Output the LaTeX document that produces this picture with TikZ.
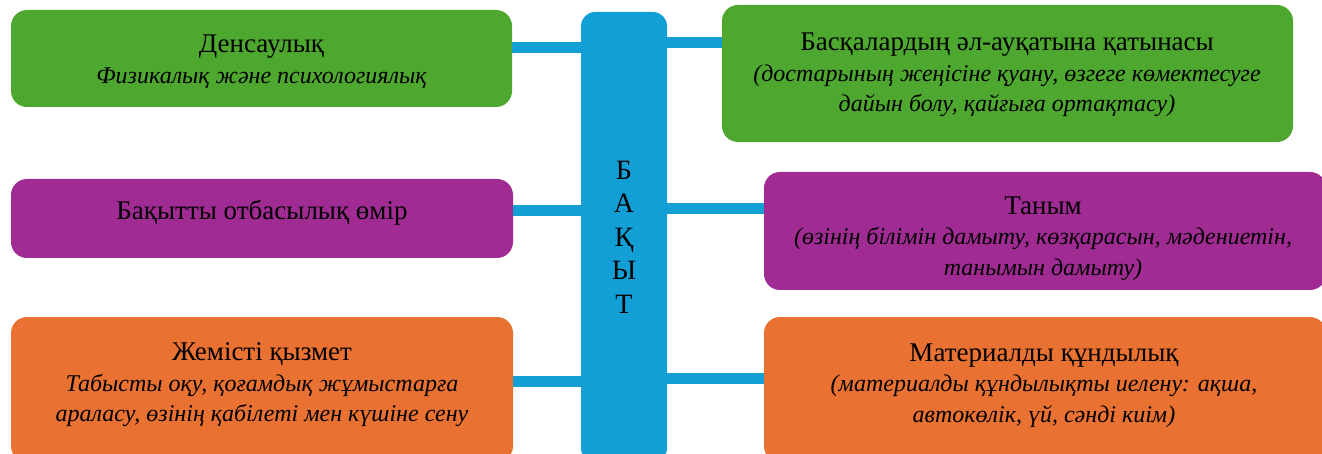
\documentclass[tikz,border=0pt]{standalone}
\usepackage{fontspec}
\setmainfont{Liberation Serif}
\usetikzlibrary{calc}
\definecolor{cgreen}{HTML}{4EA72E}
\definecolor{cpurple}{HTML}{A02B93}
\definecolor{corange}{HTML}{E97132}
\definecolor{cblue}{HTML}{119FD6}
\tikzset{
  box/.style={rectangle, rounded corners=16pt, inner sep=0pt, draw=none},
  txt/.style={align=center, inner sep=0pt, font=\fontsize{27}{30.5}\selectfont},
  conn/.style={draw=cblue, line width=11pt},
  barbox/.style={rectangle, rounded corners=14pt, fill=cblue, inner sep=0pt, align=center, font=\fontsize{28}{33.5}\selectfont}
}
\newcommand{\sub}[1]{{\itshape\fontsize{24}{30}\selectfont #1}}
\begin{document}
\begin{tikzpicture}[x=1pt,y=-1pt]
\useasboundingbox (0,0) rectangle (1322,454);
\clip (0,0) rectangle (1322,454);
% central bar
\node[barbox, minimum width=86pt, minimum height=450pt] (bar) at (624,237) {Б\\А\\Қ\\Ы\\Т};
% left boxes
\node[box, fill=cgreen, minimum width=501pt, minimum height=97pt] (den) at (261.5,58.5) {};
\node[box, fill=cpurple, minimum width=502pt, minimum height=79pt] (otb) at (262,218.5) {};
\node[box, fill=corange, minimum width=502pt, minimum height=145pt] (jem) at (262,389.5) {};
% right boxes
\node[box, fill=cgreen, minimum width=571pt, minimum height=137pt] (bas) at (1007.5,73.5) {};
\node[box, fill=cpurple, minimum width=562pt, minimum height=118pt] (tan) at (1045,231) {};
\node[box, fill=corange, minimum width=562pt, minimum height=145pt] (mat) at (1045,389.5) {};
% texts
\node[txt] (denT) at (261.5,61.5) {Денсаулық\\\sub{Физикалық және психологиялық}};
\node[txt] (otbT) at (262,213) {Бақытты отбасылық өмір};
\node[txt] (jemT) at (262,385) {Жемісті қызмет\\\sub{Табысты оқу, қоғамдық жұмыстарға}\\\sub{араласу, өзінің қабілеті мен күшіне сену}};
\node[txt] (basT) at (1007,75) {Басқалардың әл-ауқатына қатынасы\\\sub{(достарының жеңісіне қуану, өзгеге көмектесуге}\\\sub{дайын болу, қайғыға ортақтасу)}};
\node[txt] (tanT) at (1043,238.5) {Таным\\\sub{(өзінің білімін дамыту, көзқарасын, мәдениетін,}\\\sub{танымын дамыту)}};
\node[txt] (matT) at (1044,385.5) {Материалды құндылық\\\sub{(материалды құндылықты иелену: ақша,}\\\sub{автокөлік, үй, сәнді киім)}};
% connectors
\draw[conn] ([yshift=10.5pt]den.east) -- ([yshift=10.5pt]den.east -| bar.west);
\draw[conn] ([yshift=7.5pt]otb.east) -- ([yshift=7.5pt]otb.east -| bar.west);
\draw[conn] ([yshift=8.5pt]jem.east) -- ([yshift=8.5pt]jem.east -| bar.west);
\draw[conn] ([yshift=31pt]bas.west) -- ([yshift=31pt]bas.west -| bar.east);
\draw[conn] ([yshift=22pt]tan.west) -- ([yshift=22pt]tan.west -| bar.east);
\draw[conn] ([yshift=11.5pt]mat.west) -- ([yshift=11.5pt]mat.west -| bar.east);
\end{tikzpicture}
\end{document}
